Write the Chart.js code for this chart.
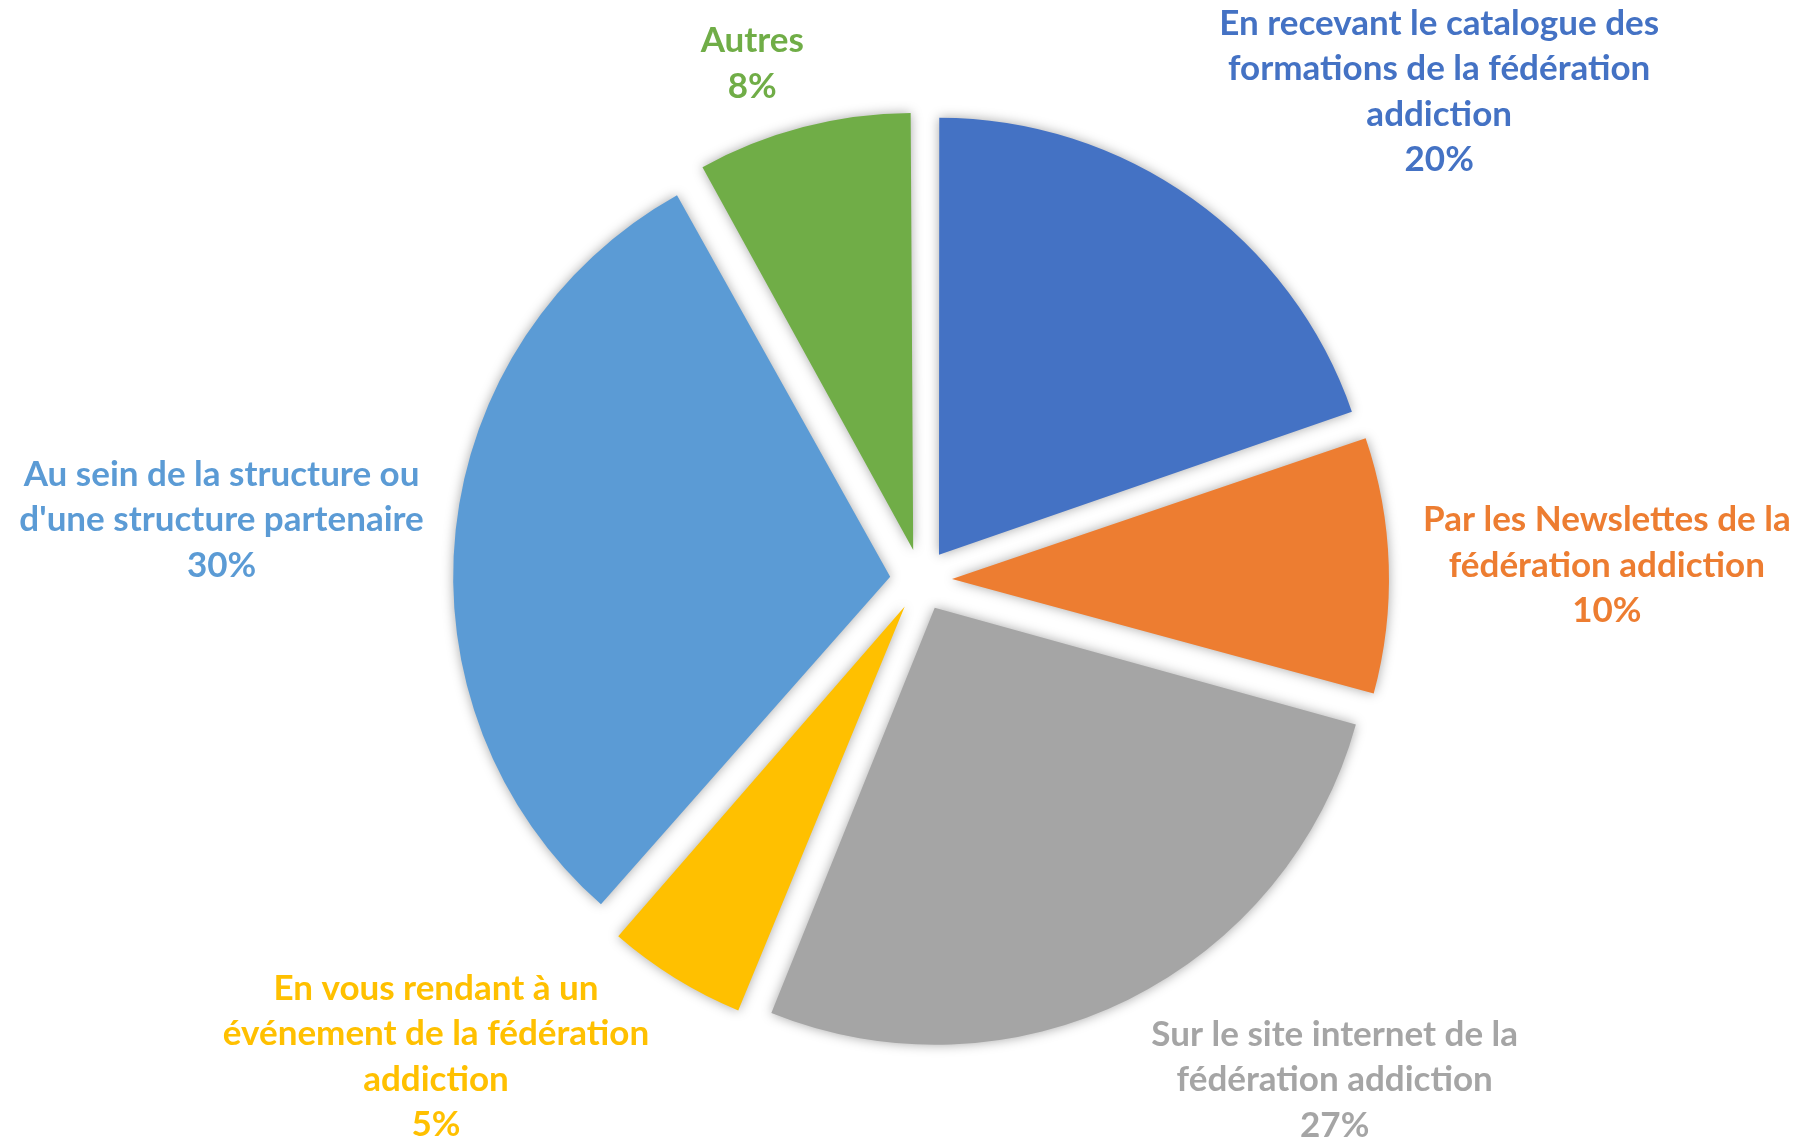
<!DOCTYPE html>
<html lang="fr">
<head>
<meta charset="utf-8">
<title>Formations de la fédération addiction</title>
<script src="https://cdn.jsdelivr.net/npm/chart.js@4.4.1/dist/chart.umd.min.js"></script>
<style>
  html, body { margin: 0; padding: 0; background: #fff; }
  #wrap { width: 1801px; height: 1139px; }
</style>
</head>
<body>
<div id="wrap"><canvas id="pie" width="1801" height="1139"></canvas></div>
<script>
const categories = [
  ["En recevant le catalogue des", "formations de la fédération", "addiction"],
  ["Par les Newslettes de la", "fédération addiction"],
  ["Sur le site internet de la", "fédération addiction"],
  ["En vous rendant à un", "événement de la fédération", "addiction"],
  ["Au sein de la structure ou", "d'une structure partenaire"],
  ["Autres"],
];
// shares; labels show them rounded
const shares = [19.7, 9.6, 26.8, 5.4, 30.4, 8.1];
const colors = ["#4472C4", "#ED7D31", "#A5A5A5", "#FFC000", "#5B9BD5", "#70AD47"];

// where each label sits: angle (deg, clockwise from top) and distance from the pie centre
const labelAngle = [46.7, 88.8, 140.4, 225.5, 274.9, 341.9];
const labelDist = [712, 686, 649, 680, 702, 543];

const RADIUS = 437;
const EXPLODE = 31;
const LINE = 45.5;
const FONT = "bold 35px Lato, 'Open Sans', sans-serif";

// chart.js grows small exploded slices a bit; keep every slice at the same radius
const sliceShadow = {
  id: "sliceShadow",
  beforeDatasetsDraw(chart) {
    chart.getDatasetMeta(0).data.forEach((arc) => {
      const off = (arc.options.offset || 0) / 4;
      const fix = 1 - Math.sin(Math.min(Math.PI, arc.circumference));
      arc.outerRadius = RADIUS - off * fix;
    });
    const ctx = chart.ctx;
    ctx.save();
    ctx.shadowColor = "rgba(0,0,0,0.35)";
    ctx.shadowBlur = 12;
  },
  afterDatasetsDraw(chart) {
    chart.ctx.restore();
  },
};

const outsideLabels = {
  id: "outsideLabels",
  afterDraw(chart) {
    const ctx = chart.ctx;
    ctx.save();
    ctx.font = FONT;
    ctx.textAlign = "center";
    ctx.textBaseline = "middle";
    chart.getDatasetMeta(0).data.forEach((arc, i) => {
      const a = labelAngle[i] * Math.PI / 180;
      const cx = arc.x + Math.sin(a) * labelDist[i];
      const cy = arc.y - Math.cos(a) * labelDist[i];
      const lines = [...categories[i], `${Math.round(shares[i])}%`];
      const top = cy - (lines.length - 1) * LINE / 2;
      ctx.fillStyle = colors[i];
      lines.forEach((t, k) => ctx.fillText(t, cx, top + k * LINE));
    });
    ctx.restore();
  },
};

new Chart(document.getElementById("pie"), {
  type: "pie",
  data: {
    labels: categories,
    datasets: [{
      data: shares,
      backgroundColor: colors,
      borderWidth: 0,
      offset: EXPLODE * 4,
    }],
  },
  options: {
    responsive: false,
    devicePixelRatio: 1,
    animation: false,
    radius: RADIUS,
    layout: { padding: { left: 41, top: 21, right: 0, bottom: 0 } },
    plugins: {
      legend: { display: false },
      tooltip: { enabled: false },
    },
  },
  plugins: [sliceShadow, outsideLabels],
});
</script>
</body>
</html>
